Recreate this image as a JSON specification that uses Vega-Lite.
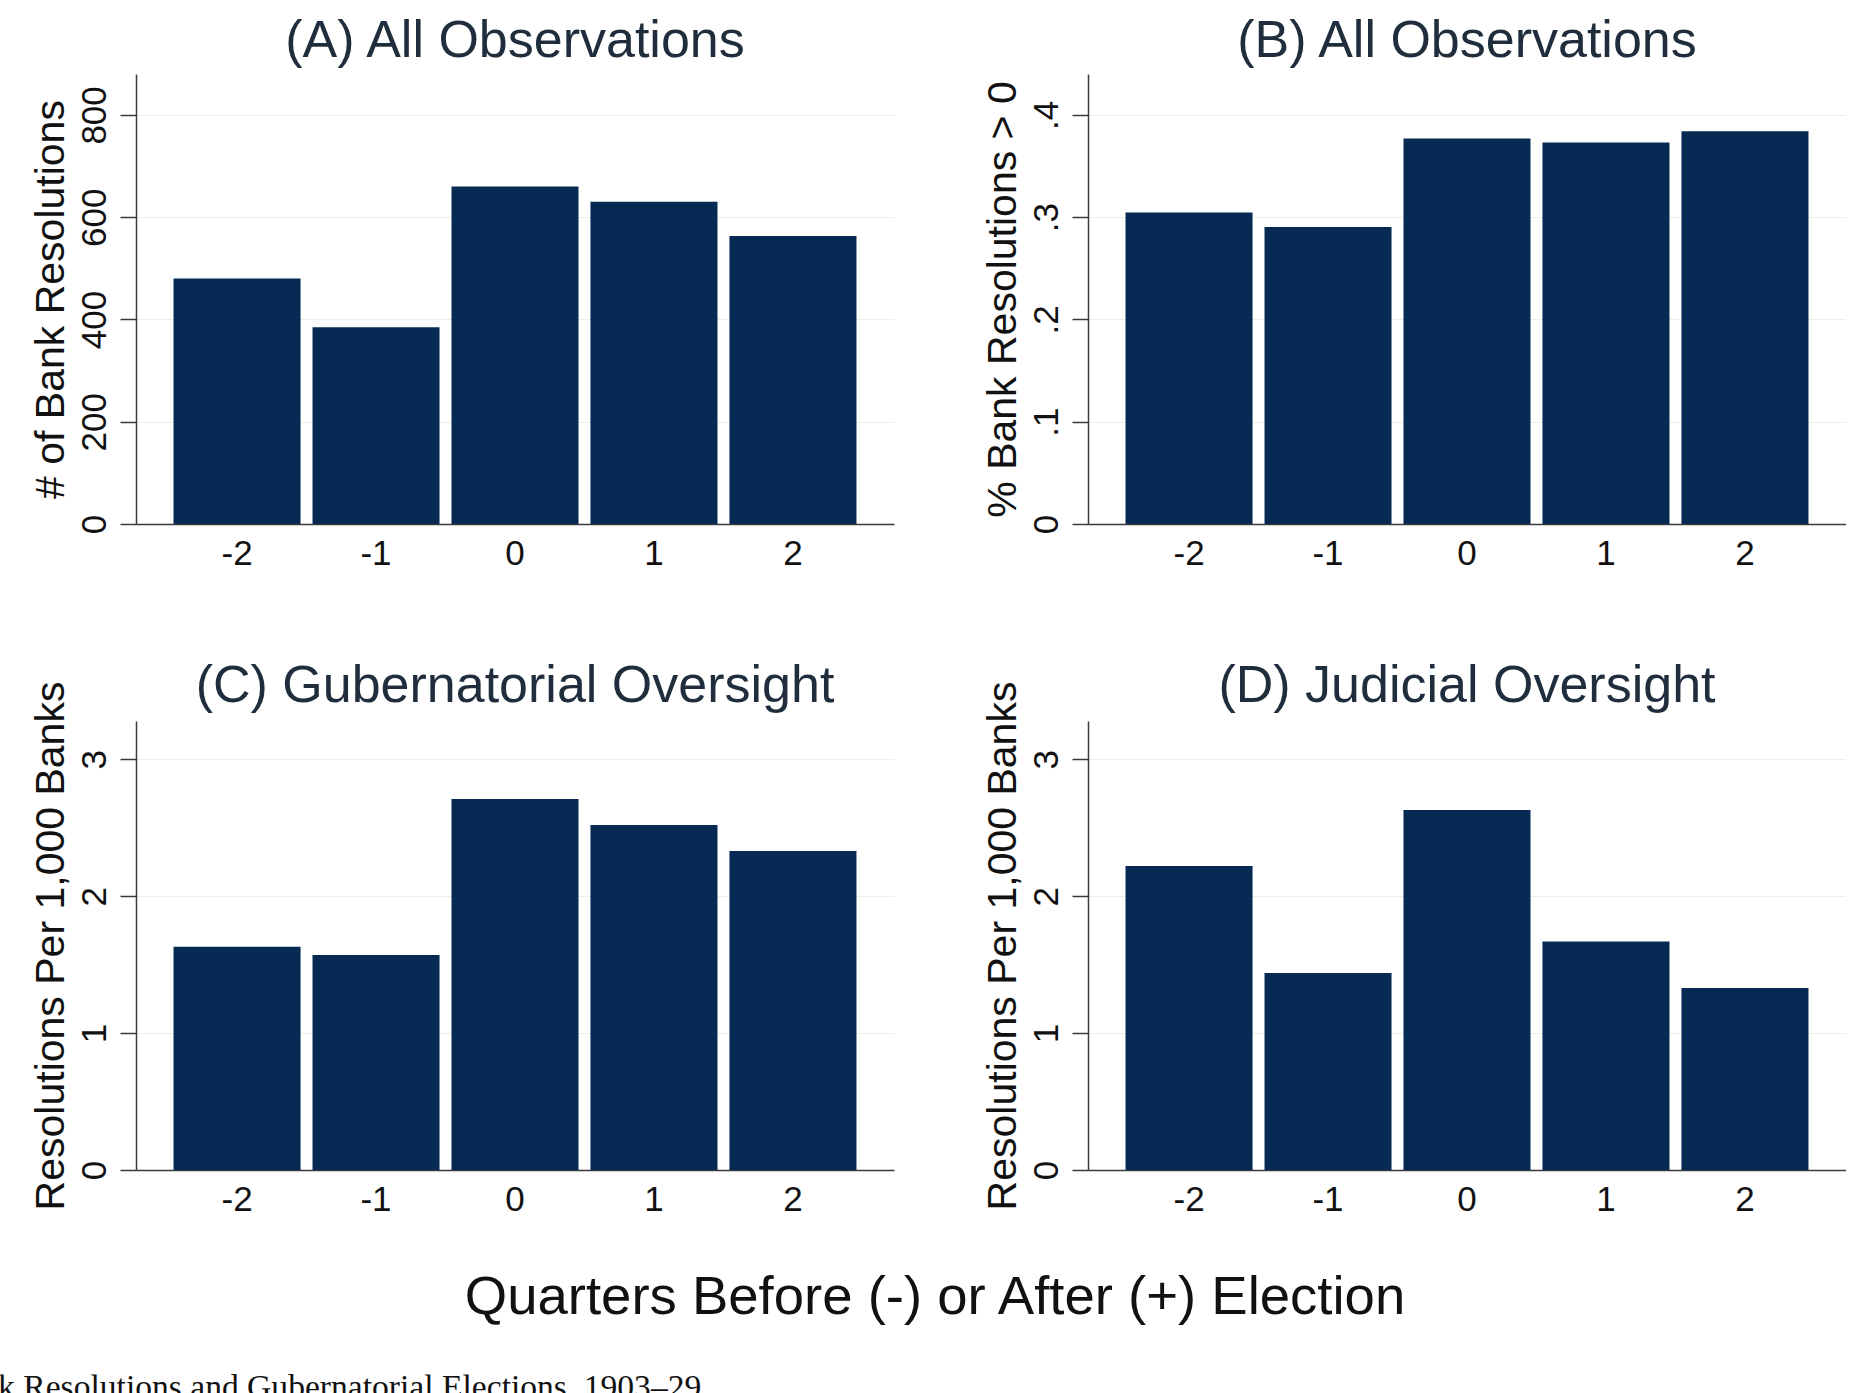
{
  "$schema": "https://vega.github.io/schema/vega-lite/v6.json",
  "background": "white",
  "padding": {"left": -57, "top": 15, "right": 0, "bottom": -11},
  "config": {
    "view": {"stroke": null},
    "font": "Liberation Sans",
    "axis": {
      "domainColor": "#3a3a3a",
      "domainWidth": 1.5,
      "labelFont": "Liberation Sans",
      "labelFontSize": 35,
      "labelColor": "#111111",
      "titleFont": "Liberation Sans",
      "titleFontSize": 41,
      "titleFontWeight": "normal",
      "titleColor": "#111111"
    },
    "axisX": {
      "ticks": false,
      "grid": false,
      "labelAngle": 0,
      "labelPadding": 12,
      "labelBaseline": "top"
    },
    "axisY": {
      "tickSize": 16,
      "tickColor": "#3a3a3a",
      "tickWidth": 1.5,
      "labelAngle": -90,
      "labelAlign": "center",
      "labelBaseline": "alphabetic",
      "labelPadding": 15,
      "grid": true,
      "gridColor": "#efeee6",
      "gridWidth": 1,
      "titlePadding": 5
    },
    "title": {
      "font": "Liberation Sans",
      "fontSize": 52,
      "fontWeight": "normal",
      "color": "#1f2d3d",
      "frame": "group",
      "offset": 6
    },
    "bar": {"color": "#062a54"}
  },
  "datasets": {
    "resolutions": [
      {"panel": "A", "quarter": -2, "value": 480},
      {"panel": "A", "quarter": -1, "value": 385},
      {"panel": "A", "quarter": 0, "value": 660},
      {"panel": "A", "quarter": 1, "value": 630},
      {"panel": "A", "quarter": 2, "value": 563},
      {"panel": "B", "quarter": -2, "value": 0.3045},
      {"panel": "B", "quarter": -1, "value": 0.2905},
      {"panel": "B", "quarter": 0, "value": 0.377},
      {"panel": "B", "quarter": 1, "value": 0.373},
      {"panel": "B", "quarter": 2, "value": 0.384},
      {"panel": "C", "quarter": -2, "value": 1.63},
      {"panel": "C", "quarter": -1, "value": 1.57},
      {"panel": "C", "quarter": 0, "value": 2.71},
      {"panel": "C", "quarter": 1, "value": 2.52},
      {"panel": "C", "quarter": 2, "value": 2.33},
      {"panel": "D", "quarter": -2, "value": 2.22},
      {"panel": "D", "quarter": -1, "value": 1.44},
      {"panel": "D", "quarter": 0, "value": 2.63},
      {"panel": "D", "quarter": 1, "value": 1.67},
      {"panel": "D", "quarter": 2, "value": 1.33}
    ]
  },
  "title": {
    "text": "Bank Resolutions and Gubernatorial Elections, 1903–29",
    "orient": "bottom",
    "anchor": "start",
    "frame": "bounds",
    "font": "Liberation Serif",
    "fontSize": 33.6,
    "fontWeight": "normal",
    "color": "#111111",
    "dx": -86,
    "offset": 46
  },
  "vconcat": [
    {
      "title": {
        "text": "Quarters Before (-) or After (+) Election",
        "orient": "bottom",
        "anchor": "middle",
        "frame": "bounds",
        "fontSize": 54.5,
        "color": "#111111",
        "dx": -3,
        "offset": 54
      },
      "columns": 2,
      "spacing": {"row": 89, "column": 87},
      "concat": [
        {
          "width": 758,
          "height": 450,
          "title": {"text": "(A) All Observations"},
          "data": {"name": "resolutions"},
          "transform": [{"filter": "datum.panel === 'A'"}],
          "mark": "bar",
          "encoding": {
            "x": {"field": "quarter", "type": "ordinal", "title": null,
                  "scale": {"paddingInner": 0.086, "paddingOuter": 0.27}},
            "y": {"field": "value", "type": "quantitative", "title": "# of Bank Resolutions",
                  "scale": {"domain": [0, 880], "nice": false},
                  "axis": {"values": [0, 200, 400, 600, 800]}}
          }
        },
        {
          "width": 758,
          "height": 450,
          "title": {"text": "(B) All Observations"},
          "data": {"name": "resolutions"},
          "transform": [{"filter": "datum.panel === 'B'"}],
          "mark": "bar",
          "encoding": {
            "x": {"field": "quarter", "type": "ordinal", "title": null,
                  "scale": {"paddingInner": 0.086, "paddingOuter": 0.27}},
            "y": {"field": "value", "type": "quantitative", "title": "% Bank Resolutions > 0",
                  "scale": {"domain": [0, 0.44], "nice": false},
                  "axis": {"values": [0, 0.1, 0.2, 0.3, 0.4],
                           "labelExpr": "datum.value == 0 ? '0' : replace(format(datum.value, '.1f'), '0.', '.')"}}
          }
        },
        {
          "width": 758,
          "height": 449,
          "title": {"text": "(C) Gubernatorial Oversight", "offset": -32},
          "data": {"name": "resolutions"},
          "transform": [{"filter": "datum.panel === 'C'"}],
          "mark": "bar",
          "encoding": {
            "x": {"field": "quarter", "type": "ordinal", "title": null,
                  "scale": {"paddingInner": 0.086, "paddingOuter": 0.27}},
            "y": {"field": "value", "type": "quantitative", "title": "Resolutions Per 1,000 Banks",
                  "scale": {"domain": [0, 3.28], "nice": false},
                  "axis": {"values": [0, 1, 2, 3]}}
          }
        },
        {
          "width": 758,
          "height": 449,
          "title": {"text": "(D) Judicial Oversight", "offset": -32},
          "data": {"name": "resolutions"},
          "transform": [{"filter": "datum.panel === 'D'"}],
          "mark": "bar",
          "encoding": {
            "x": {"field": "quarter", "type": "ordinal", "title": null,
                  "scale": {"paddingInner": 0.086, "paddingOuter": 0.27}},
            "y": {"field": "value", "type": "quantitative", "title": "Resolutions Per 1,000 Banks",
                  "scale": {"domain": [0, 3.28], "nice": false},
                  "axis": {"values": [0, 1, 2, 3]}}
          }
        }
      ]
    }
  ]
}
